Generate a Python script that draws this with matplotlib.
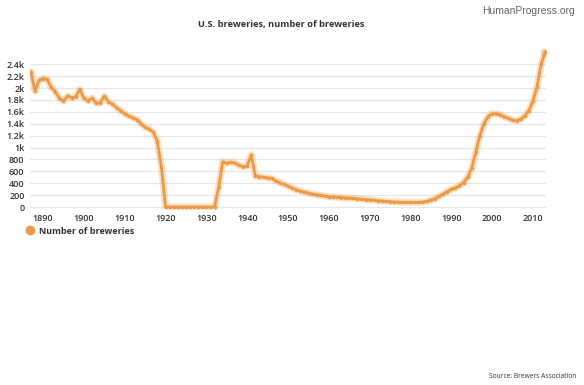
import matplotlib
matplotlib.use("Agg")
import matplotlib.pyplot as plt
from matplotlib.lines import Line2D

years = list(range(1887, 2014))
breweries = [
    2270, 1950, 2130, 2160, 2150, 2010, 1940, 1830, 1780, 1870,   # 1887-1896
    1840, 1855, 1980, 1830, 1790, 1830, 1750, 1750, 1860, 1770,   # 1897-1906
    1730, 1670, 1620, 1570, 1530, 1500, 1470, 1400, 1340, 1310,   # 1907-1916
    1260, 1100, 670, 0, 0, 0, 0, 0, 0, 0,                         # 1917-1926
    0, 0, 0, 0, 0, 0, 330, 760, 740, 750,                         # 1927-1936
    740, 700, 680, 690, 880, 520, 510, 500, 490, 480,             # 1937-1946
    440, 410, 380, 350, 320, 290, 270, 250, 235, 220,             # 1947-1956
    205, 195, 185, 175, 170, 165, 160, 155, 150, 145,             # 1957-1966
    138, 132, 125, 120, 112, 106, 100, 95, 90, 86,                # 1967-1976
    82, 80, 80, 80, 80, 80, 85, 95, 115, 140,                     # 1977-1986
    180, 220, 260, 300, 320, 360, 410, 500, 650, 920,             # 1987-1996
    1200, 1400, 1520, 1570, 1570, 1550, 1520, 1490, 1460, 1450,   # 1997-2006
    1480, 1530, 1620, 1780, 2020, 2400, 2600,                     # 2007-2013
]
y_ticks = [0, 200, 400, 600, 800, 1000, 1200, 1400, 1600, 1800, 2000, 2200, 2400]
y_tick_labels = ["0", "200", "400", "600", "800", "1k", "1.2k", "1.4k", "1.6k",
                 "1.8k", "2k", "2.2k", "2.4k"]
x_ticks = [1890, 1900, 1910, 1920, 1930, 1940, 1950, 1960, 1970, 1980, 1990, 2000, 2010]

title = "U.S. breweries, number of breweries"
series_name = "Number of breweries"

plt.rcParams['font.family'] = ['Open Sans', 'DejaVu Sans']
color = '#EC9A45'

fig = plt.figure(figsize=(5.84, 3.85), dpi=100)
ax = fig.add_axes([30 / 584, 1 - 210 / 385, (546 - 30) / 584, (210 - 49.4) / 385])

ax.plot(years, breweries, color=color, lw=5, alpha=0.3, solid_capstyle='round',
        solid_joinstyle='round', zorder=3)
ax.plot(years, breweries, color=color, lw=2, zorder=4, solid_joinstyle='round',
        marker='o', markersize=2.5, markerfacecolor=color, markeredgewidth=0)
ax.plot(years[-1:], breweries[-1:], 'o', color=color, markersize=7, alpha=0.35,
        markeredgewidth=0, zorder=5)

ax.set_xlim(1886.8, 2013.2)
ax.set_ylim(-50, 2650)
ax.set_yticks(y_ticks)
ax.set_yticklabels(y_tick_labels)
ax.set_xticks(x_ticks)
ax.set_xticklabels([str(x) for x in x_ticks])
ax.grid(axis='y', color='#e6e6e6', lw=0.9)
ax.set_axisbelow(True)
for s in ax.spines.values():
    s.set_visible(False)
ax.tick_params(axis='both', length=0, labelsize=6.5, labelcolor='#333333')
ax.tick_params(axis='y', pad=4)
ax.tick_params(axis='x', pad=3)
for lbl in ax.get_xticklabels() + ax.get_yticklabels():
    lbl.set_fontweight('semibold')

fig.text(281 / 584, 1 - 24 / 385, title, ha='center', va='center',
         fontsize=6.7, fontweight='bold', color='#333333')
fig.text(575 / 584, 1 - 11 / 385, "HumanProgress.org", ha='right', va='center',
         fontsize=7.5, color='#666666', family=['Liberation Sans', 'DejaVu Sans'])
fig.text(576 / 584, 1 - 377 / 385, "Source: Brewers Association", ha='right',
         va='center', fontsize=4.8, color='#333333')

handle = Line2D([], [], marker='o', color=color, linestyle='None', markersize=6)
leg = fig.legend([handle], [series_name], loc='center left',
                 bbox_to_anchor=(21 / 584, 1 - 231 / 385), frameon=False,
                 prop={'size': 6.5, 'weight': 'bold'}, handletextpad=0.4,
                 borderaxespad=0, handlelength=1.2)
for t in leg.get_texts():
    t.set_color('#333333')

fig.savefig("out.png", dpi=100)
